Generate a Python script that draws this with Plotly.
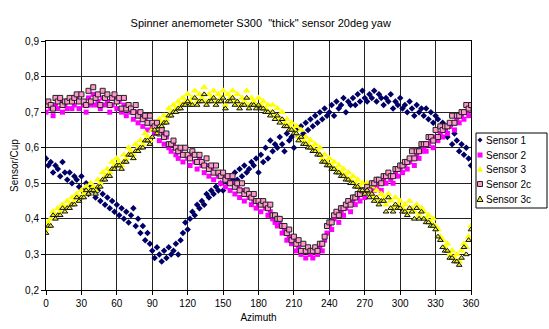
import plotly.graph_objects as go

azimuth = list(range(0, 361, 2))

sensor1 = [
    0.57, 0.55, 0.56, 0.53, 0.55, 0.54, 0.52, 0.56, 0.53, 0.51,
    0.53, 0.50, 0.52, 0.51, 0.49, 0.52, 0.48, 0.50, 0.47, 0.49,
    0.48, 0.46, 0.48, 0.45, 0.47, 0.44, 0.46, 0.43, 0.45, 0.42,
    0.44, 0.41, 0.43, 0.40, 0.42, 0.39, 0.41, 0.43, 0.38, 0.40,
    0.36, 0.38, 0.34, 0.36, 0.33, 0.31, 0.29, 0.32, 0.30, 0.28,
    0.31, 0.29, 0.32, 0.30, 0.31, 0.33, 0.30, 0.34, 0.36, 0.39,
    0.37, 0.40, 0.42, 0.41, 0.44, 0.43, 0.45, 0.44, 0.47, 0.46,
    0.48, 0.47, 0.49, 0.48, 0.50, 0.48, 0.51, 0.50, 0.52, 0.51,
    0.53, 0.51, 0.54, 0.52, 0.55, 0.53, 0.54, 0.56, 0.55, 0.57,
    0.53, 0.58, 0.56, 0.60, 0.57, 0.62, 0.59, 0.61, 0.60, 0.63,
    0.61, 0.59, 0.64, 0.62, 0.63, 0.60, 0.65, 0.63, 0.66, 0.64,
    0.67, 0.65, 0.68, 0.66, 0.69, 0.67, 0.70, 0.68, 0.71, 0.69,
    0.70, 0.72, 0.69, 0.73, 0.71, 0.72, 0.74, 0.70, 0.73, 0.72,
    0.74, 0.72, 0.75, 0.73, 0.76, 0.74, 0.73, 0.75, 0.74, 0.76,
    0.73, 0.75, 0.74, 0.72, 0.74, 0.73, 0.75, 0.71, 0.73, 0.72,
    0.74, 0.71, 0.72, 0.70, 0.73, 0.71, 0.69, 0.72, 0.70, 0.71,
    0.69, 0.71, 0.68, 0.70, 0.67, 0.69, 0.68, 0.66, 0.67, 0.65,
    0.63, 0.66, 0.61, 0.64, 0.62, 0.59, 0.61, 0.58, 0.60, 0.57,
    0.55,
]

sensor2 = [
    0.70, 0.72, 0.71, 0.69, 0.72, 0.71, 0.73, 0.70, 0.72, 0.71,
    0.73, 0.71, 0.72, 0.74, 0.71, 0.73, 0.72, 0.70, 0.74, 0.72,
    0.75, 0.72, 0.73, 0.71, 0.74, 0.72, 0.73, 0.70, 0.72, 0.74,
    0.71, 0.73, 0.70, 0.72, 0.69, 0.71, 0.70, 0.68, 0.70, 0.67,
    0.69, 0.66, 0.68, 0.65, 0.67, 0.66, 0.64, 0.65, 0.62, 0.64,
    0.61, 0.63, 0.60, 0.59, 0.61, 0.58, 0.57, 0.59, 0.56, 0.58,
    0.57, 0.55, 0.58, 0.56, 0.54, 0.57, 0.55, 0.53, 0.55, 0.52,
    0.54, 0.51, 0.53, 0.52, 0.50, 0.52, 0.49, 0.51, 0.48, 0.50,
    0.47, 0.49, 0.46, 0.48, 0.45, 0.47, 0.46, 0.44, 0.45, 0.43,
    0.44, 0.42, 0.44, 0.43, 0.41, 0.42, 0.40, 0.39, 0.38, 0.39,
    0.36, 0.37, 0.34, 0.35, 0.33, 0.34, 0.31, 0.32, 0.30, 0.31,
    0.29, 0.31, 0.30, 0.29, 0.31, 0.30, 0.32, 0.31, 0.34, 0.36,
    0.38, 0.37, 0.40, 0.41, 0.39, 0.42, 0.41, 0.43, 0.44, 0.42,
    0.45, 0.44, 0.46, 0.45, 0.47, 0.46, 0.48, 0.47, 0.49, 0.48,
    0.49, 0.50, 0.48, 0.51, 0.50, 0.52, 0.51, 0.50, 0.53, 0.52,
    0.54, 0.53, 0.55, 0.54, 0.56, 0.57, 0.55, 0.58, 0.57, 0.59,
    0.60, 0.59, 0.61, 0.62, 0.60, 0.63, 0.62, 0.64, 0.63, 0.65,
    0.64, 0.66, 0.67, 0.65, 0.68, 0.67, 0.69, 0.68, 0.70, 0.69,
    0.71,
]

sensor3 = [
    0.37, 0.39, 0.40, 0.42, 0.41, 0.43, 0.42, 0.44, 0.43, 0.45,
    0.44, 0.46, 0.45, 0.47, 0.46, 0.48, 0.47, 0.49, 0.48, 0.50,
    0.49, 0.48, 0.51, 0.50, 0.53, 0.52, 0.54, 0.53, 0.56, 0.55,
    0.57, 0.56, 0.55, 0.58, 0.57, 0.60, 0.59, 0.58, 0.61, 0.60,
    0.62, 0.61, 0.64, 0.63, 0.62, 0.65, 0.66, 0.65, 0.68, 0.67,
    0.69, 0.68, 0.71, 0.70, 0.72, 0.71, 0.73, 0.72, 0.74, 0.73,
    0.75, 0.73, 0.74, 0.76, 0.73, 0.75, 0.74, 0.77, 0.73, 0.75,
    0.74, 0.76, 0.73, 0.75, 0.74, 0.76, 0.72, 0.75, 0.74, 0.76,
    0.73, 0.75, 0.72, 0.74, 0.73, 0.76, 0.72, 0.74, 0.73, 0.72,
    0.74, 0.72, 0.73, 0.71, 0.72, 0.70, 0.72, 0.69, 0.71, 0.68,
    0.70, 0.67, 0.68, 0.66, 0.67, 0.65, 0.66, 0.63, 0.65, 0.62,
    0.63, 0.61, 0.62, 0.60, 0.61, 0.59, 0.60, 0.57, 0.58, 0.56,
    0.57, 0.55, 0.56, 0.54, 0.55, 0.53, 0.54, 0.52, 0.53, 0.51,
    0.52, 0.50, 0.51, 0.49, 0.50, 0.48, 0.50, 0.47, 0.49, 0.46,
    0.48, 0.45, 0.47, 0.46, 0.44, 0.47, 0.45, 0.43, 0.46, 0.44,
    0.45, 0.43, 0.44, 0.42, 0.45, 0.43, 0.42, 0.44, 0.41, 0.43,
    0.42, 0.40, 0.41, 0.39, 0.40, 0.38, 0.37, 0.35, 0.34, 0.32,
    0.33, 0.30, 0.31, 0.29, 0.30, 0.28, 0.31, 0.33, 0.32, 0.35,
    0.38,
]

sensor2c = [
    0.72, 0.73, 0.72, 0.71, 0.74, 0.73, 0.74, 0.72, 0.73, 0.73,
    0.74, 0.73, 0.74, 0.75, 0.73, 0.75, 0.73, 0.72, 0.76, 0.73,
    0.77, 0.74, 0.75, 0.72, 0.76, 0.74, 0.75, 0.72, 0.74, 0.75,
    0.73, 0.74, 0.71, 0.74, 0.71, 0.72, 0.71, 0.70, 0.72, 0.69,
    0.70, 0.68, 0.69, 0.67, 0.69, 0.67, 0.66, 0.67, 0.64, 0.65,
    0.63, 0.64, 0.61, 0.61, 0.62, 0.60, 0.59, 0.60, 0.58, 0.60,
    0.58, 0.57, 0.59, 0.58, 0.56, 0.58, 0.56, 0.55, 0.57, 0.54,
    0.55, 0.53, 0.55, 0.53, 0.52, 0.53, 0.51, 0.52, 0.50, 0.52,
    0.49, 0.50, 0.48, 0.50, 0.47, 0.48, 0.47, 0.46, 0.47, 0.45,
    0.45, 0.44, 0.45, 0.44, 0.43, 0.44, 0.41, 0.41, 0.40, 0.40,
    0.38, 0.38, 0.36, 0.37, 0.34, 0.35, 0.33, 0.34, 0.31, 0.33,
    0.31, 0.32, 0.31, 0.31, 0.32, 0.31, 0.33, 0.33, 0.35, 0.38,
    0.39, 0.39, 0.41, 0.42, 0.41, 0.43, 0.43, 0.44, 0.45, 0.44,
    0.46, 0.46, 0.47, 0.47, 0.48, 0.48, 0.49, 0.48, 0.50, 0.50,
    0.51, 0.51, 0.50, 0.52, 0.52, 0.53, 0.52, 0.52, 0.54, 0.54,
    0.55, 0.55, 0.56, 0.56, 0.57, 0.59, 0.57, 0.59, 0.59, 0.61,
    0.61, 0.61, 0.63, 0.63, 0.62, 0.65, 0.63, 0.66, 0.65, 0.66,
    0.66, 0.67, 0.69, 0.67, 0.69, 0.69, 0.70, 0.70, 0.72, 0.71,
    0.72,
]

sensor3c = [
    0.36, 0.38, 0.38, 0.41, 0.40, 0.41, 0.41, 0.43, 0.42, 0.43,
    0.43, 0.44, 0.44, 0.46, 0.45, 0.46, 0.46, 0.48, 0.47, 0.48,
    0.48, 0.47, 0.49, 0.49, 0.51, 0.51, 0.52, 0.52, 0.54, 0.54,
    0.55, 0.55, 0.54, 0.56, 0.56, 0.58, 0.58, 0.57, 0.59, 0.59,
    0.60, 0.60, 0.62, 0.62, 0.61, 0.63, 0.65, 0.64, 0.66, 0.66,
    0.67, 0.67, 0.69, 0.69, 0.70, 0.70, 0.71, 0.71, 0.72, 0.72,
    0.73, 0.72, 0.72, 0.74, 0.72, 0.73, 0.73, 0.75, 0.72, 0.73,
    0.73, 0.74, 0.72, 0.73, 0.73, 0.74, 0.71, 0.73, 0.73, 0.74,
    0.72, 0.73, 0.71, 0.72, 0.72, 0.74, 0.71, 0.72, 0.72, 0.71,
    0.72, 0.71, 0.71, 0.70, 0.70, 0.69, 0.70, 0.68, 0.69, 0.67,
    0.68, 0.66, 0.66, 0.65, 0.65, 0.64, 0.64, 0.62, 0.63, 0.61,
    0.61, 0.60, 0.60, 0.59, 0.59, 0.58, 0.58, 0.56, 0.56, 0.55,
    0.55, 0.54, 0.54, 0.53, 0.53, 0.52, 0.52, 0.51, 0.51, 0.50,
    0.50, 0.49, 0.49, 0.48, 0.48, 0.47, 0.48, 0.46, 0.47, 0.45,
    0.46, 0.44, 0.45, 0.45, 0.42, 0.46, 0.43, 0.42, 0.44, 0.43,
    0.43, 0.42, 0.42, 0.41, 0.43, 0.42, 0.40, 0.43, 0.40, 0.42,
    0.40, 0.39, 0.39, 0.38, 0.38, 0.37, 0.35, 0.34, 0.32, 0.31,
    0.31, 0.29, 0.29, 0.28, 0.28, 0.27, 0.29, 0.32, 0.30, 0.34,
    0.37,
]

series_names = ["Sensor 1", "Sensor 2", "Sensor 3", "Sensor 2c", "Sensor 3c"]
x_ticks = list(range(0, 361, 30))
y_ticks = [0.2, 0.3, 0.4, 0.5, 0.6, 0.7, 0.8, 0.9]

W, H = 549, 329
ML, MR, MT, MB = 46, 78, 41, 39
PW, PH = W - ML - MR, H - MT - MB

styles = [
    dict(symbol="diamond", size=5, color="#000066", line=dict(width=0)),
    dict(symbol="square", size=5, color="#FF00FF", line=dict(width=0)),
    dict(symbol="triangle-up", size=7, color="#FFFF00", line=dict(width=0)),
    dict(symbol="square", size=5, color="#FF99CC", line=dict(width=1, color="#222222")),
    dict(symbol="triangle-up", size=5, color="#EEEE22", line=dict(width=1, color="#111111")),
]
all_values = [sensor1, sensor2, sensor3, sensor2c, sensor3c]

fig = go.Figure()
for name, vals, st in zip(series_names, all_values, styles):
    fig.add_trace(go.Scatter(x=azimuth, y=vals, mode="markers", name=name,
                             marker=st, showlegend=False, hoverinfo="skip"))


def px(xp):
    return (xp - ML) / PW


def py(yp):
    return (H - MB - yp) / PH


# manual legend (layout decoration in pixel units)
shapes = [dict(type="rect", xref="paper", yref="paper",
               x0=px(476), x1=px(547), y0=py(208), y1=py(133),
               line=dict(color="black", width=1), fillcolor="white", layer="above")]
annotations = []
row_y = [140, 155, 169, 184, 199]
sx = 480
for i, (name, yy) in enumerate(zip(series_names, row_y)):
    if i == 0:
        path = "M {a},{b} L {c},{d} L {a},{e} L {f},{d} Z".format(
            a=px(sx), b=py(yy - 2.5), c=px(sx + 2.5), d=py(yy), e=py(yy + 2.5), f=px(sx - 2.5))
        shapes.append(dict(type="path", xref="paper", yref="paper", path=path,
                           fillcolor="#000066", line=dict(width=0), layer="above"))
    elif i in (1, 3):
        col = "#FF00FF" if i == 1 else "#FF99CC"
        lw = 0 if i == 1 else 1
        shapes.append(dict(type="rect", xref="paper", yref="paper",
                           x0=px(sx - 2.5), x1=px(sx + 2.5), y0=py(yy + 2.5), y1=py(yy - 2.5),
                           fillcolor=col, line=dict(width=lw, color="#222222"), layer="above"))
    else:
        col = "#FFFF00" if i == 2 else "#EEEE22"
        lw = 0 if i == 2 else 1
        path = "M {a},{b} L {c},{d} L {e},{d} Z".format(
            a=px(sx), b=py(yy - 3), c=px(sx + 3), d=py(yy + 2.5), e=px(sx - 3))
        shapes.append(dict(type="path", xref="paper", yref="paper", path=path,
                           fillcolor=col, line=dict(width=lw, color="#111111"), layer="above"))
    annotations.append(dict(text=name, xref="paper", yref="paper", x=px(484), y=py(yy),
                            xanchor="left", yanchor="middle", showarrow=False,
                            font=dict(size=10, color="black")))

fig.update_layout(
    width=W, height=H,
    margin=dict(l=ML, r=MR, t=MT, b=MB, autoexpand=False),
    paper_bgcolor="white", plot_bgcolor="white",
    separators=",.",
    font=dict(family="Liberation Sans, Arial, sans-serif", size=10, color="black"),
    title=dict(text='Spinner anemometer S300  "thick" sensor 20deg yaw',
               x=0.475, xanchor="center", y=0.93, yanchor="middle",
               font=dict(size=11)),
    showlegend=False,
    hovermode=False,
    shapes=shapes,
    annotations=annotations,
    xaxis=dict(range=[0, 360], tickvals=x_ticks, ticks="outside", ticklen=4,
               tickcolor="black", showgrid=True, gridcolor="#222222", gridwidth=1,
               showline=True, linecolor="black", linewidth=1, mirror=True,
               zeroline=False, title=dict(text="Azimuth", standoff=5,
                                          font=dict(size=10))),
    yaxis=dict(range=[0.2, 0.9], tickvals=y_ticks, tickformat=".1f", ticks="outside",
               ticklen=4, tickcolor="black", showgrid=True, gridcolor="#222222",
               gridwidth=1, showline=True, linecolor="black", linewidth=1,
               mirror=True, zeroline=False,
               title=dict(text="Sensor/Cup", standoff=4, font=dict(size=10))),
)

fig.write_html("out.html", config={"displayModeBar": False, "staticPlot": True},
               post_script="document.body.style.margin='0px';document.body.style.padding='0px';")
